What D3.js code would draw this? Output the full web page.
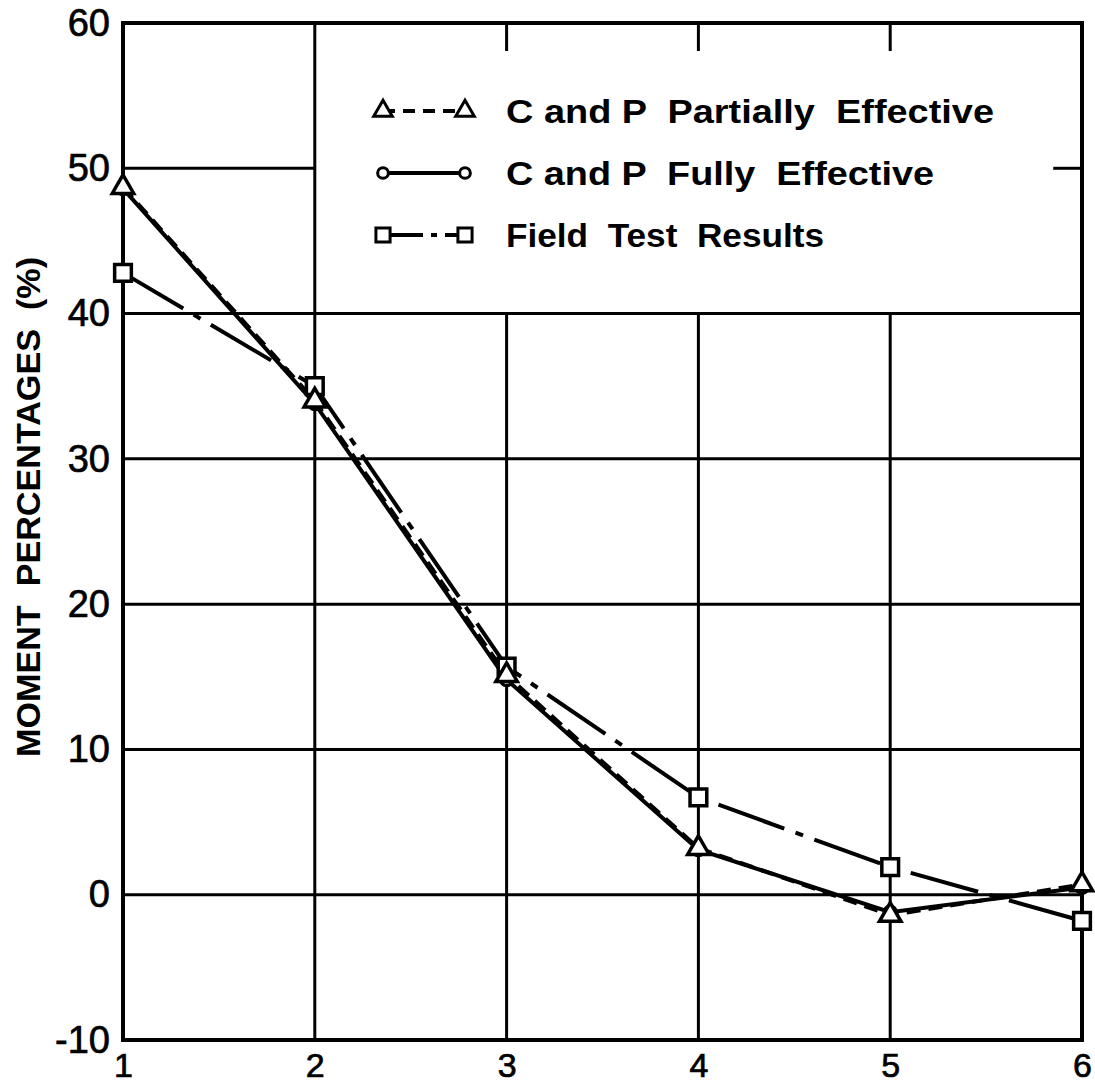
<!DOCTYPE html>
<html>
<head>
<meta charset="utf-8">
<style>
  body { margin: 0; background: white; }
  svg { display: block; }
  text { font-family: "Liberation Sans", Arial, sans-serif; fill: black; white-space: pre; }
</style>
<script src="https://cdn.jsdelivr.net/npm/d3@7"></script>
</head>
<body>
<svg id="chart"></svg>
<script>
// values
let spans = [1, 2, 3, 4, 5, 6];
let yTicks = [-10, 0, 10, 20, 30, 40, 50, 60];
let partial = [48.7, 34.0, 15.1, 3.2, -1.4, 0.7];
let fully = [48.6, 33.8, 14.8, 3.1, -1.2, 0.5];
let field = [42.8, 35.0, 15.7, 6.7, 1.9, -1.8];
let legendLabels = ["C and P  Partially  Effective", "C and P  Fully  Effective", "Field  Test  Results"];

let width = 1095, height = 1092;
let margin = {top: 23, right: 13, bottom: 52, left: 123};

let svg = d3.select("#chart").attr("width", width).attr("height", height);

let x = d3.scaleLinear().domain([1, 6]).range([margin.left, width - margin.right]);
let y = d3.scaleLinear().domain([-10, 60]).range([height - margin.bottom, margin.top]);

// blank area reserved for the legend
let legendBox = {left: x(2), right: x(5.85), top: margin.top + 28, bottom: y(40)};

let grid = svg.append("g").attr("stroke", "black").attr("stroke-width", 3);

yTicks.filter(v => v > -10 && v < 60).forEach(v => {
  let yy = y(v);
  if (yy > legendBox.top && yy < legendBox.bottom) {
    grid.append("line").attr("x1", x(1)).attr("x2", legendBox.left).attr("y1", yy).attr("y2", yy);
    grid.append("line").attr("x1", legendBox.right).attr("x2", x(6)).attr("y1", yy).attr("y2", yy);
  } else {
    grid.append("line").attr("x1", x(1)).attr("x2", x(6)).attr("y1", yy).attr("y2", yy);
  }
});

spans.filter(v => v > 1 && v < 6).forEach(v => {
  let xx = x(v);
  if (xx > legendBox.left + 1 && xx < legendBox.right) {
    grid.append("line").attr("x1", xx).attr("x2", xx).attr("y1", y(60)).attr("y2", legendBox.top);
    grid.append("line").attr("x1", xx).attr("x2", xx).attr("y1", legendBox.bottom).attr("y2", y(-10));
  } else {
    grid.append("line").attr("x1", xx).attr("x2", xx).attr("y1", y(60)).attr("y2", y(-10));
  }
});

svg.append("rect")
  .attr("x", x(1)).attr("y", y(60))
  .attr("width", x(6) - x(1)).attr("height", y(-10) - y(60))
  .attr("fill", "none").attr("stroke", "black").attr("stroke-width", 4);

// axes labels
let axisY = d3.axisLeft(y).tickValues(yTicks).tickSize(0).tickPadding(13).tickFormat(d3.format("d"));
let gy = svg.append("g").attr("transform", `translate(${x(1)},0)`).call(axisY);
gy.select(".domain").remove();
gy.selectAll("text")
  .attr("font-size", 38).attr("font-family", "Liberation Sans, Arial, sans-serif")
  .attr("stroke", "black").attr("stroke-width", 0.7)
  .text(d => d < 0 ? "-" + Math.abs(d) : d);

let axisX = d3.axisBottom(x).tickValues(spans).tickSize(0).tickPadding(13).tickFormat(d3.format("d"));
let gx = svg.append("g").attr("transform", `translate(0,${y(-10)})`).call(axisX);
gx.select(".domain").remove();
gx.selectAll("text")
  .attr("font-size", 34).attr("font-family", "Liberation Sans, Arial, sans-serif")
  .attr("stroke", "black").attr("stroke-width", 0.7);

svg.append("text")
  .attr("transform", `translate(40,${(257 + 757) / 2}) rotate(-90)`)
  .attr("text-anchor", "middle")
  .attr("font-size", 34).attr("font-weight", "bold")
  .attr("textLength", 500).attr("lengthAdjust", "spacingAndGlyphs")
  .text("MOMENT  PERCENTAGES  (%)");

// series
let series = [
  {values: field, dash: "70,12,8,12", symbol: d3.symbolSquare, size: 280},
  {values: fully, dash: null, symbol: d3.symbolCircle, size: 110},
  {values: partial, dash: "14,8", symbol: d3.symbolTriangle, size: 200}
];

let line = d3.line().x((d, i) => x(spans[i])).y(d => y(d));

series.forEach(s => {
  svg.append("path")
    .attr("d", line(s.values))
    .attr("fill", "none").attr("stroke", "black").attr("stroke-width", 4)
    .attr("stroke-dasharray", s.dash);
});

series.forEach(s => {
  svg.append("g").selectAll("path").data(s.values).enter().append("path")
    .attr("d", d3.symbol().type(s.symbol).size(s.size))
    .attr("transform", (d, i) => `translate(${x(spans[i])},${y(d)})`)
    .attr("fill", "white").attr("stroke", "black").attr("stroke-width", 3.5);
});

// legend
let legendRows = [
  {label: legendLabels[0], dash: "12,8", symbol: d3.symbolTriangle, size: 150, yy: 111, len: 488},
  {label: legendLabels[1], dash: null, symbol: d3.symbolCircle, size: 90, yy: 173, len: 428},
  {label: legendLabels[2], dash: "40,8,6,8", symbol: d3.symbolSquare, size: 200, yy: 235, len: 318}
];

let legend = svg.append("g");
legendRows.forEach(r => {
  let g = legend.append("g").attr("transform", `translate(0,${r.yy})`);
  g.append("line").attr("x1", 383).attr("x2", 465)
    .attr("stroke", "black").attr("stroke-width", 4).attr("stroke-dasharray", r.dash);
  [383, 465].forEach(px => {
    g.append("path").attr("d", d3.symbol().type(r.symbol).size(r.size))
      .attr("transform", `translate(${px},0)`)
      .attr("fill", "white").attr("stroke", "black").attr("stroke-width", 3);
  });
  g.append("text")
    .attr("x", 506).attr("dy", "0.36em")
    .attr("font-size", 34).attr("font-weight", "bold")
    .attr("textLength", r.len).attr("lengthAdjust", "spacingAndGlyphs")
    .text(r.label);
});
</script>
</body>
</html>
